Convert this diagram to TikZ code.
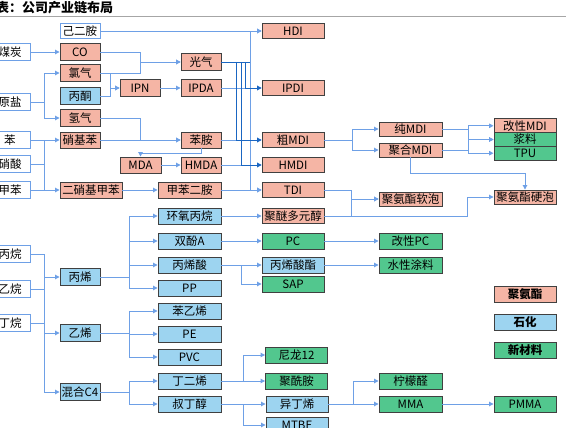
\documentclass[tikz,border=0pt]{standalone}
\usepackage{fontspec}
\setmainfont{Liberation Sans}
\newfontfamily\cjk{Noto Sans CJK SC}
\usetikzlibrary{arrows.meta}
\definecolor{salc}{HTML}{F5B5A5}
\definecolor{bluc}{HTML}{9DD4F0}
\definecolor{grnc}{HTML}{52C78E}
\definecolor{bdc}{HTML}{404040}
\definecolor{lnc}{HTML}{6EA0E6}
\definecolor{dkc}{HTML}{1A66C2}
\begin{document}
\begin{tikzpicture}[x=1pt,y=-1pt,
  base/.style={draw=bdc, line width=0.9pt, inner sep=0pt, minimum height=16pt, minimum width=40pt, font=\cjk\fontsize{11.5}{12}\selectfont},
  salbox/.style={base, fill=salc},
  blubox/.style={base, fill=bluc},
  grnbox/.style={base, fill=grnc},
  whtbox/.style={base, draw=lnc, fill=white, minimum height=17pt},
  ln/.style={draw=lnc, line width=0.9pt},
  arr/.style={ln, -{Triangle[length=4.5pt,width=4.5pt]}},
  dk/.style={draw=dkc, line width=0.9pt},
  dkarr/.style={dk, -{Triangle[length=4.5pt,width=4.5pt]}},
  w62/.style={minimum width=62pt},
  w63/.style={minimum width=63pt}]
\useasboundingbox (0,0) rectangle (566,428);
% title
\node[anchor=base west, inner sep=0pt, font=\cjk\bfseries\fontsize{13}{14}\selectfont] (title) at (-4,12.5) {表：公司产业链布局};
\draw[gray!70, line width=1.2pt] (0,16.5) -- (566,16.5);
% left column
\node[whtbox] (meitan) at (10,52) {煤炭};
\node[whtbox] (yuanyan) at (10,102) {原盐};
\node[whtbox] (ben) at (10,140) {苯};
\node[whtbox] (xiaosuan) at (10,164) {硝酸};
\node[whtbox] (jiaben) at (10,190) {甲苯};
\node[whtbox] (bingwan) at (10,254) {丙烷};
\node[whtbox] (yiwan) at (10,289) {乙烷};
\node[whtbox] (dingwan) at (10,323) {丁烷};
% column 1
\node[whtbox, minimum height=15pt] (jiyian) at (80,31) {己二胺};
\node[salbox, minimum height=17pt] (co) at (80,52) {CO};
\node[salbox, minimum height=17pt] (lvqi) at (80,73) {氯气};
\node[blubox, minimum height=17pt] (bingtong) at (80,96) {丙酮};
\node[salbox, minimum height=17pt] (qingqi) at (80,118) {氢气};
\node[salbox] (xiaojiben) at (80,140) {硝基苯};
\node[salbox, w62] (erxiao) at (91,190) {二硝基甲苯};
\node[blubox, minimum height=17pt] (bingxi) at (80,277) {丙烯};
\node[blubox, minimum height=17pt] (yixi) at (80,333) {乙烯};
\node[blubox, minimum height=17pt] (hunhe) at (80,392) {混合C4};
\node[salbox, minimum height=17pt] (ipn) at (140,88) {IPN};
\node[salbox, minimum width=41pt] (mda) at (140.5,165) {MDA};
% column 2
\node[salbox, minimum height=17pt] (guangqi) at (201,62) {光气};
\node[salbox, minimum height=17pt] (ipda) at (201,88) {IPDA};
\node[salbox] (benan) at (201,140) {苯胺};
\node[salbox] (hmda) at (201,165) {HMDA};
\node[salbox, w63] (jbea) at (189.5,190) {甲苯二胺};
\node[blubox, w63] (hyby) at (189.5,216) {环氧丙烷};
\node[blubox, w63] (sfa) at (189.5,241) {双酚A};
\node[blubox, w63] (bxs) at (189.5,265) {丙烯酸};
\node[blubox, w63] (pp) at (189.5,288) {PP};
\node[blubox, w63] (byx) at (189.5,311) {苯乙烯};
\node[blubox, w63] (pe) at (189.5,334) {PE};
\node[blubox, w63] (pvc) at (189.5,357) {PVC};
\node[blubox, w63] (dex) at (189.5,381) {丁二烯};
\node[blubox, w63] (sdc) at (189.5,404) {叔丁醇};
% column 3
\node[salbox, w62, minimum height=15pt] (hdi) at (293,31) {HDI};
\node[salbox, w62, minimum height=15pt] (ipdi) at (293,88) {IPDI};
\node[salbox, w62, minimum height=15pt] (cumdi) at (293,140) {粗MDI};
\node[salbox, w62, minimum height=15pt] (hmdi) at (293,165) {HMDI};
\node[salbox, w62, minimum height=15pt] (tdi) at (293,190) {TDI};
\node[salbox, w62, minimum height=15pt] (jmdy) at (293,216) {聚醚多元醇};
\node[grnbox, w62] (pc) at (293,241) {PC};
\node[blubox, w62] (bxsz) at (293,265) {丙烯酸酯};
\node[grnbox, w62] (sap) at (293,284) {SAP};
\node[grnbox, w62] (nl) at (296.5,355) {尼龙12};
\node[grnbox, w62] (jxa) at (296.5,381) {聚酰胺};
\node[blubox, w62] (ydx) at (297,404) {异丁烯};
\node[blubox, w62] (mtbe) at (297,425) {MTBE};
% column 4
\node[salbox, w63, minimum height=14pt] (chun) at (410.5,129) {纯MDI};
\node[salbox, w63, minimum height=14pt] (juhe) at (410.5,150) {聚合MDI};
\node[salbox, w63, minimum height=14pt] (ruanpao) at (410.5,199) {聚氨酯软泡};
\node[grnbox, w63] (gpc) at (410.5,241) {改性PC};
\node[grnbox, w63] (sxtl) at (410.5,265) {水性涂料};
\node[grnbox, w63] (nmq) at (410.5,381) {柠檬醛};
\node[grnbox, w63] (mma) at (410.5,404) {MMA};
% column 5
\node[salbox, w62, minimum height=13.7pt] (gmdi) at (525,125.8) {改性MDI};
\node[grnbox, w62, minimum height=13.7pt] (jl) at (525,139.5) {浆料};
\node[grnbox, w62, minimum height=13.7pt] (tpu) at (525,153.2) {TPU};
\node[salbox, w62, minimum height=14pt] (yingpao) at (525,197) {聚氨酯硬泡};
\node[salbox, w62] (lg1) at (525,294) {\bfseries 聚氨酯};
\node[blubox, w62] (lg2) at (525,322) {\bfseries 石化};
\node[grnbox, w62] (lg3) at (525,350) {\bfseries 新材料};
\node[grnbox, w62] (pmma) at (525,404) {PMMA};
% ---- connectors (light)
\draw[arr] (meitan.east) -- (co.west);
\draw[arr] (yuanyan.east) -- ++(14,0) |- (lvqi.west);
\draw[arr] (yuanyan.east) -- ++(14,0) |- (qingqi.west);
\draw[arr] (co.east) -- ++(40,0) |- (guangqi.west);
\draw[arr] (lvqi.east) -- ++(40,0) |- (guangqi.west);
\draw[arr] (lvqi.east) -- ++(10,0) |- (ipn.west);
\draw[arr] (bingtong.east) -- ++(10,0) |- (ipn.west);
\draw[arr] (ipn.east) -- (ipda.west);
\draw[arr] (ipda.east) -- (ipdi.west);
\draw[arr] (jiyian.east) -- (hdi.west);
\draw[arr] (qingqi.east) -- ++(40,0) |- (benan.west);
\draw[arr] (xiaojiben.east) -- (benan.west);
\draw[arr] (benan.south) -- ++(0,5) -| (mda.north);
\draw[arr] (mda.east) -- (hmda.west);
\draw[arr] (ben.east) -- ++(14,0) |- (erxiao.west);
\draw[arr] (jiaben.east) -- ++(14,0) |- (xiaojiben.west);
\draw[ln] (xiaosuan.east) -- ++(14,0);
\draw[arr] (erxiao.east) -- (jbea.west);
\draw[arr] (benan.east) -- (cumdi.west);
\draw[arr] (hmda.east) -- (hmdi.west);
\draw[arr] (jbea.east) -- (tdi.west);
% phosgene bus
\draw[arr] (guangqi.east) ++(29,0) |- (hdi.west);
\draw[arr] (guangqi.east) ++(29,0) |- (tdi.west);
\draw[dk] (guangqi.east) -- ++(29,0);
\draw[dkarr] (guangqi.east) ++(15,0) |- (cumdi.west);
\draw[dkarr] (guangqi.east) ++(20,0) |- (hmdi.west);
\draw[dkarr] (guangqi.east) ++(24,0) |- (ipdi.west);
% MDI chain
\draw[arr] (cumdi.east) -- ++(28,0) |- (chun.west);
\draw[arr] (cumdi.east) -- ++(28,0) |- (juhe.west);
\draw[arr] (chun.east) -- ++(26,0) |- (gmdi.west);
\draw[arr] (chun.east) -- ++(26,0) |- (jl.west);
\draw[arr] (juhe.east) -- ++(26,0) |- (jl.west);
\draw[arr] (juhe.east) -- ++(26,0) |- (tpu.west);
\draw[arr] (juhe.south) -- ++(0,16) -| (yingpao.north);
\draw[arr] (tdi.east) -- ++(27,0) |- (ruanpao.west);
\draw[arr] (jmdy.east) -- ++(27,0) |- (ruanpao.west);
\draw[arr] (jmdy.east) -- ++(143,0) |- (yingpao.west);
\draw[arr] (hyby.east) -- (jmdy.west);
% petrochemical
\draw[arr] (bingwan.east) -- ++(14,0) |- (bingxi.west);
\draw[arr] (bingwan.east) -- ++(14,0) |- (yixi.west);
\draw[arr] (bingwan.east) -- ++(14,0) |- (hunhe.west);
\draw[ln] (yiwan.east) -- ++(14,0);
\draw[ln] (dingwan.east) -- ++(14,0);
\foreach \t in {hyby,sfa,bxs,pp} \draw[arr] (bingxi.east) -- ++(29,0) |- (\t.west);
\foreach \t in {byx,pe,pvc} \draw[arr] (yixi.east) -- ++(29,0) |- (\t.west);
\foreach \t in {dex,sdc} \draw[arr] (hunhe.east) -- ++(29,0) |- (\t.west);
\draw[arr] (sfa.east) -- (pc.west);
\draw[arr] (pc.east) -- (gpc.west);
\draw[arr] (bxs.east) -- (bxsz.west);
\draw[arr] (bxs.east) -- ++(20,0) |- (sap.west);
\draw[arr] (bxsz.east) -- (sxtl.west);
\draw[arr] (dex.east) -- ++(22,0) |- (nl.west);
\draw[arr] (dex.east) -- (jxa.west);
\draw[arr] (sdc.east) -- (ydx.west);
\draw[arr] (sdc.east) -- ++(22,0) |- (mtbe.west);
\draw[arr] (ydx.east) -- ++(25,0) |- (nmq.west);
\draw[arr] (ydx.east) -- (mma.west);
\draw[arr] (mma.east) -- (pmma.west);
\end{tikzpicture}
\end{document}
